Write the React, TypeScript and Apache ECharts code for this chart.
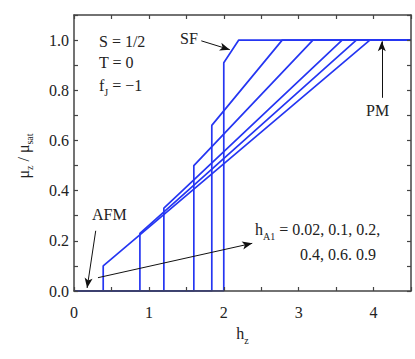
import React, { useEffect, useRef } from "react";
import * as echarts from "echarts";

const hA1Values = ["0.02", "0.1", "0.2", "0.4", "0.6", "0.9"];
// [h, mu] break points of each magnetisation curve
const curve002: number[][] = [[0, 0], [0.39, 0], [0.39, 0.10], [3.95, 1.0], [4.5, 1.0]];
const curve01: number[][] = [[0, 0], [0.88, 0], [0.88, 0.23], [3.77, 1.0], [4.5, 1.0]];
const curve02: number[][] = [[0, 0], [1.2, 0], [1.2, 0.33], [3.58, 1.0], [4.5, 1.0]];
const curve04: number[][] = [[0, 0], [1.6, 0], [1.6, 0.50], [3.19, 1.0], [4.5, 1.0]];
const curve06: number[][] = [[0, 0], [1.84, 0], [1.84, 0.66], [2.78, 1.0], [4.5, 1.0]];
const curve09: number[][] = [[0, 0], [2.0, 0], [2.0, 0.91], [2.2, 1.0], [4.5, 1.0]];
const curves = [curve002, curve01, curve02, curve04, curve06, curve09];

// annotation arrows: [from, to] in data coordinates
const arrowSF = [[1.70, 0.997], [2.08, 0.962]];
const arrowPM = [[4.11, 0.77], [4.11, 0.995]];
const arrowAFM = [[0.29, 0.24], [0.175, 0.012]];
const arrowHA = [[0.32, 0.053], [2.38, 0.19]];

const FONT = "Liberation Serif";
const FS = 16;
const BLUE = "#2536f2";
const AXIS = "#444";
const TXT = "#222";

const richMS = {
  m: { fontFamily: FONT, fontSize: FS, fill: TXT, color: TXT },
  s: { fontFamily: FONT, fontSize: 10, fill: TXT, color: TXT, padding: [13, 0, 0, 0] },
};

export default function App() {
  const ref = useRef<HTMLDivElement>(null);
  useEffect(() => {
    const chart = echarts.init(ref.current!, null, { renderer: "svg" });
    const arrowItem = (a: number[][]) => [
      { coord: a[0], symbol: "none" },
      { coord: a[1], symbol: "arrow", symbolSize: [6, 10] },
    ];
    const axisCommon = {
      z: 5,
      axisLine: { show: true, onZero: false, lineStyle: { color: AXIS, width: 1.5 } },
      axisTick: { show: true, inside: true, length: 4, lineStyle: { color: AXIS, width: 1.2 } },
      splitLine: { show: false },
    };
    chart.setOption({
      animation: false,
      grid: { left: 74, right: 4, top: 15, bottom: 68 },
      xAxis: [
        {
          type: "value", min: 0, max: 4.5, interval: 0.5, position: "bottom",
          ...axisCommon,
          axisLabel: {
            margin: 13, fontFamily: FONT, fontSize: FS, color: TXT,
            formatter: (v: number) => (Math.abs(v - Math.round(v)) < 1e-6 ? String(Math.round(v)) : ""),
          },
          name: "{m|h}{s|z}", nameLocation: "middle", nameGap: 31,
          nameTextStyle: { rich: richMS },
        },
        {
          type: "value", min: 0, max: 4.5, interval: 0.5, position: "top",
          ...axisCommon, axisLabel: { show: false },
        },
      ],
      yAxis: [
        {
          type: "value", min: 0, max: 1.1, interval: 0.1, position: "left",
          ...axisCommon,
          axisLabel: {
            margin: 5, fontFamily: FONT, fontSize: FS, color: TXT,
            formatter: (v: number) => {
              const k = Math.round(v * 10);
              return k % 2 === 0 && k <= 10 ? v.toFixed(1) : "";
            },
          },
        },
        {
          type: "value", min: 0, max: 1.1, interval: 0.1, position: "right",
          ...axisCommon, axisLabel: { show: false },
        },
      ],
      graphic: [
        {
          type: "text", x: 23, y: 156, rotation: Math.PI / 2,
          style: {
            text: "{m|μ}{s|z}{m| / μ}{s|sat}",
            align: "center", verticalAlign: "middle",
            rich: richMS,
          },
        },
        { type: "text", x: 99, y: 33, style: { text: "S = 1/2", font: `${FS}px ${FONT}`, fill: TXT } },
        { type: "text", x: 99, y: 54, style: { text: "T = 0", font: `${FS}px ${FONT}`, fill: TXT } },
        {
          type: "text", x: 99, y: 74,
          style: { text: "{m|f}{s|J}{m| = −1}", rich: richMS },
        },
        { type: "text", x: 180, y: 30, style: { text: "SF", font: `${FS}px ${FONT}`, fill: TXT } },
        { type: "text", x: 366, y: 102, style: { text: "PM", font: `${FS}px ${FONT}`, fill: TXT } },
        { type: "text", x: 92, y: 206, style: { text: "AFM", font: `${FS}px ${FONT}`, fill: TXT } },
        {
          type: "text", x: 255, y: 218,
          style: {
            text: "{m|h}{s|A1}{m| = " + hA1Values.slice(0, 3).join(", ") + ",}",
            rich: richMS,
          },
        },
        {
          type: "text", x: 300, y: 246,
          style: { text: hA1Values[3] + ", " + hA1Values[4] + ". " + hA1Values[5], font: `${FS}px ${FONT}`, fill: TXT },
        },
      ],
      series: [
        ...curves.map((c, i) => ({
          type: "line",
          name: "hA1=" + hA1Values[i],
          data: c,
          xAxisIndex: 0, yAxisIndex: 0,
          showSymbol: false, symbol: "none",
          lineStyle: { color: BLUE, width: 1.7 },
          z: 2,
        })),
        {
          type: "line", data: [], xAxisIndex: 0, yAxisIndex: 0,
          markLine: {
            silent: true, animation: false,
            label: { show: false },
            lineStyle: { color: "#111", width: 1, type: "solid" },
            data: [arrowItem(arrowSF), arrowItem(arrowPM), arrowItem(arrowAFM), arrowItem(arrowHA)],
          },
        },
      ],
    });
    return () => chart.dispose();
  }, []);
  return <div ref={ref} style={{ width: 415, height: 359, position: "absolute", left: 0, top: 0 }} />;
}
